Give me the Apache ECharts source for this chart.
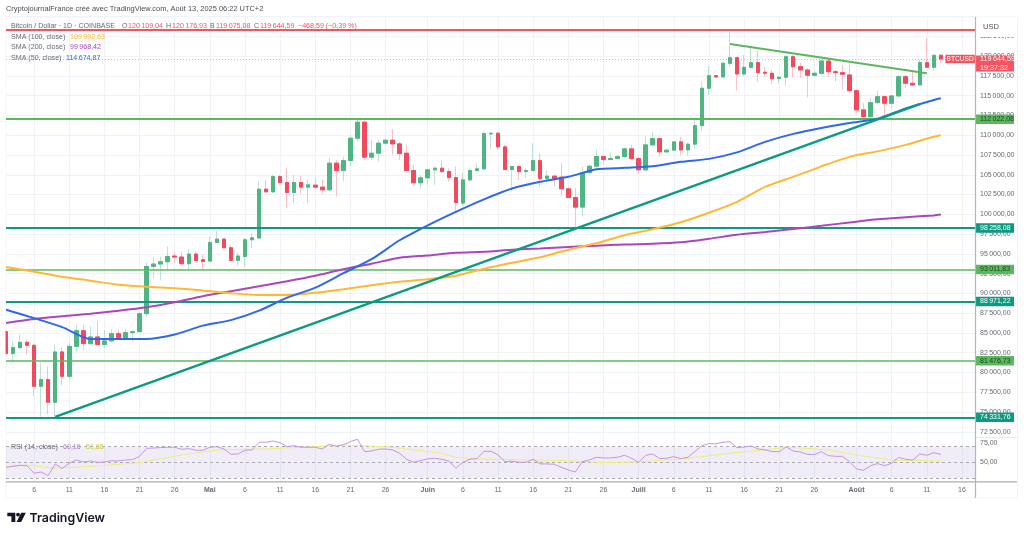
<!DOCTYPE html>
<html>
<head>
<meta charset="utf-8">
<style>html,body{margin:0;padding:0;background:#fff}#chart{width:1024px;height:536px}</style>
<script src="https://cdn.jsdelivr.net/npm/echarts@6/dist/echarts.min.js"></script>
</head>
<body>
<div id="chart"></div>
<script>
// BTC/USD daily candles, 2 Apr – 13 Aug 2025, with SMAs, support levels and RSI.
const startMonth = 3, startDay = 2;   // zero-based month of the first session
const sessionCount = 139;             // sessions on the axis, including blank days on the right

const opens = [
  85159,82381,83139,83810,83430,78250,79097,76230,82595,79513,
  83303,85286,83644,84490,83540,83985,84907,84364,85033,85159,
  87433,93407,93710,94000,94720,94594,93748,94973,94252,94088,
  96438,96867,95769,94165,94669,96779,97000,103182,102841,104774,
  104016,102753,104016,103435,103685,103435,103094,106466,105531,106794,
  109624,111644,107224,107729,108992,109371,108904,107729,105531,103978,
  104610,105620,105835,105405,104648,101414,104357,105531,105746,110170,
  110255,108525,105658,106037,105405,105531,106794,104521,104824,104700,
  103220,102122,100909,105279,106087,107300,106921,107047,107300,108272,
  107047,105620,108778,109573,107893,108108,109156,108146,108866,111215,
  115939,117530,117366,119096,119803,117745,118591,119172,117960,117833,
  117151,117328,119930,118667,118250,117580,117833,119387,118035,117909,
  117619,115636,113198,112352,114120,114878,114044,114966,117404,116570,
  116355,119172,118591,120109.04];
const closes = [
  82381,83139,83810,83430,78250,79097,76230,82595,79513,83303,
  85286,83644,84490,83540,83985,84907,84364,85033,85159,87433,
  93407,93710,94000,94669,94594,93748,94973,94165,94038,96438,
  96867,95769,94165,94720,96779,97031,103182,102841,104774,104016,
  102753,104016,103435,103725,103435,103094,106466,105531,106794,109624,
  111644,107224,107729,108992,109371,108904,107678,105531,103978,104610,
  105620,105835,105405,104648,101490,104357,105531,105746,110205,110255,
  108525,105658,106037,105405,105531,106794,104521,104824,104521,103220,
  102122,100909,105279,106087,107300,106921,107047,107300,108272,107047,
  105620,108778,109573,107893,108108,109156,108146,108866,111215,115939,
  117530,117366,119096,119803,117745,118591,119172,117909,117833,117151,
  117328,119930,118667,118250,117580,117833,119387,118035,117909,117708,
  115636,113198,112352,114120,114878,114044,114966,117404,116570,116355,
  119172,118591,120109,119644.59];
const lows = [
  82128,81244,82886,82255,76987,74420,74676,74423,78378,79097,
  82671,82886,83518,83400,83139,83770,84250,84149,83933,85030,
  87092,91941,91639,92901,93874,93622,92901,94040,92901,94000,
  96360,95700,94100,93495,93330,95730,96867,102677,102677,103900,
  100783,101414,102588,101414,103094,102588,103000,102247,104142,106037,
  109194,106883,106883,106668,108904,107514,106883,105450,103599,103182,
  103725,103725,105203,104142,100354,101073,104142,105405,105620,108272,
  108146,105620,102879,104357,104571,105400,103435,104016,103511,102336,
  102045,98258,99722,104988,105835,106251,106883,106970,107097,106883,
  105115,105405,108562,107300,107805,108020,107514,107388,108361,110546,
  115092,117202,117240,118667,115636,117404,118465,116772,117404,116482,
  116570,116230,117328,117240,114802,117404,117700,117366,116772,115724,
  115550,112819,112276,112276,114000,112567,113410,114840,115939,116230,
  116267,118502,118162,119075.08];
const highs = [
  85412,83896,84780,84150,83650,81244,80777,83518,83139,83770,
  86043,86043,85828,86460,85412,85500,85412,85500,85330,87722,
  93912,94594,94669,95933,95300,95300,95605,95300,94885,97196,
  97916,96950,96147,95175,97031,97625,104142,104357,104988,104988,
  105835,104988,104850,104357,104610,104357,107135,106883,107300,110040,
  111935,111935,109409,109409,109500,110760,109194,108778,106251,104988,
  105835,106037,106794,105835,106037,105279,105835,106466,110457,110380,
  110380,108778,106125,106251,105835,108992,107729,105531,105000,106466,
  103435,103308,106037,106251,108146,107388,107805,107514,108436,108778,
  107300,109825,110457,109624,108235,109194,109788,109068,112023,116772,
  118755,117619,119298,123087,119930,120144,121193,120776,118667,118250,
  117492,120144,120144,119172,118465,118035,119600,119640,118250,118882,
  118882,115724,114044,114675,115636,115055,115092,117619,117619,118035,
  119513,122292,120144,120176.93];

// Moving averages, read every fourth session plus the final one.
const smaSessions = [0,4,8,12,16,20,24,28,32,36,40,44,48,52,56,60,64,68,72,76,80,84,88,92,96,100,104,108,112,116,120,124,128,132,133];
const sma100 = [93331,92737,92106,91601,91096,90843,90654,90376,90021,89794,89794,90086,90527,91033,91475,91790,92232,93117,93875,94569,95516,96337,97347,98105,98988,100189,101576,103473,104736,106065,107262,107957,108780,109800,109992.63];
const sma200 = [86258,86763,87117,87433,87812,88254,88885,89643,90274,90906,91537,92232,93053,93748,94505,94795,95137,95263,95516,95680,95869,96020,96186,96274,96463,96905,97411,97751,98143,98547,98964,99368,99621,99861,99968.42];
const sma50 = [87938,86864,85727,84240,84238,84240,84806,85917,86612,87812,89453,90717,92548,94316,96716,98610,100316,101894,103258,104104,104736,105683,105873,106065,106630,107009,107830,109155,110167,110925,111556,112086,113390,114461,114674.87];

// Horizontal levels and the last traded price.
const resistanceLevel = 123300;
const tealLevels = [98258.08, 88971.22, 74331.76];
const greenLevels = [112022.08, 93011.83, 81476.73];
const lastClose = 119644.59;
const countdown = '19:37:32';

// Hand-drawn trendlines: [session, price] end points.
const risingTrend = [[7, 74386], [130, 113918]];
const fallingTrend = [[103, 121534], [131, 117833]];

// RSI(14), one reading per session.
const rsi = [
  43.7,45,46.2,45.8,36.1,37.8,33.1,47.9,42.4,48.8,
  53,50.5,51.8,50.1,50.5,52.2,51.8,53,53.5,57.7,
  67.9,68.3,68.8,69.2,69.2,66.6,67.5,65.4,65.4,69.2,
  70,67.1,60.3,60.7,65.4,65.8,75.6,75.6,77.2,75.1,
  70,71.3,69.2,69.2,69.2,67.1,73,70.4,72.6,76.4,
  79.4,63.7,64.5,66.7,67.1,65.8,61.6,53.9,50.1,52.2,
  54.4,55.2,53.9,51.8,42.5,50.1,53.9,54.8,64.1,64.1,
  59.5,51,51.4,50.1,50.1,53.9,48,48,47.6,43.7,
  40.3,37.8,51,53.1,56.5,55.6,55.6,56.5,59,55.2,
  50.1,59,60.7,54.8,55.2,57.3,54.8,56.5,63.7,71.3,
  73.9,73.5,75.6,76.4,68.8,69.6,70.9,67.1,65.8,63.7,
  63.7,69.6,64.5,63.2,60.3,59.8,63.7,58.6,57.7,57.7,
  50.9,41.6,39.9,45.8,48.4,45.8,48.8,56.4,53.9,53,
  60.7,59,62.4,60.16];
// RSI signal line, read at its bends.
const rsiSignal = [[0,44.6],[3,46.7],[7,42.4],[13,45.4],[19,49.6],[25,59.4],[30,65.8],[37,67.1],[44,70],[48,72.2],[51,71.3],[55,69.2],[62,61.6],[64,56.5],[67,54.4],[80,52.2],[85,49.7],[90,50.5],[97,55.2],[103,61.6],[110,68],[111,69.6],[117,65.8],[121,59.4],[126,53],[133,51.86]];
const rsiBands = [70, 50, 30];

const frenchMonths = ['', '', '', 'Avr', 'Mai', 'Juin', 'Juill', 'Août'];
const monthLengths = [31, 28, 31, 30, 31, 30, 31, 31];
const tickDays = [1, 6, 11, 16, 21, 26];

// One category per calendar day; the day and month stay reachable for the tick labels.
const sessions = [];
for (let m = startMonth, d = startDay; sessions.length < sessionCount; d++) {
  if (d > monthLengths[m]) { m++; d = 1; }
  sessions.push({ key: '2025-' + String(m + 1).padStart(2, '0') + '-' + String(d).padStart(2, '0'), month: m, day: d });
}
const categories = sessions.map(s => s.key);
const isTick = (i) => tickDays.includes(sessions[i].day);

const THIN = '\u202f';
const price = v => {
  const [a, b] = v.toFixed(2).split('.');
  return a.replace(/\B(?=(\d{3})+$)/g, THIN) + ',' + b;
};

const UP = '#4fb583', DOWN = '#f2495c';
const UP_WICK = '#bfe2d0', DOWN_WICK = '#f9c0c6';
const TEAL = '#0c9a80', GREEN = '#5cb85f', RED = '#f7525f';
const GRID = '#eff3f7';
const FONT = '"Liberation Sans", Arial, sans-serif';

const idx = closes.map((_, i) => i);
const candleData = idx.map(i => [opens[i], closes[i], lows[i], highs[i]]);
const bodyData = idx.map(i => [opens[i], closes[i], Math.min(opens[i], closes[i]), Math.max(opens[i], closes[i])]);
const withSessions = arr => arr.map((v, i) => [smaSessions[i], v]);

const levelLabel = (bg, fg) => ({
  show: true, position: 'end', distance: 0, formatter: p => price(p.value),
  color: fg, backgroundColor: bg, fontFamily: FONT, fontSize: 7,
  padding: [1.5, 2, 1.5, 4], width: 32, height: 6.5, align: 'left', lineHeight: 6.5
});

const levelLines = [
  { yAxis: resistanceLevel, lineStyle: { color: RED, width: 2, type: 'solid' }, label: { show: false } },
  ...tealLevels.map(v => ({ yAxis: v, lineStyle: { color: TEAL, width: 2, type: 'solid' }, label: levelLabel(TEAL, '#ffffff') })),
  ...greenLevels.map((v, i) => ({ yAxis: v, lineStyle: { color: GREEN, width: i ? 1.6 : 2, type: 'solid' }, label: levelLabel(GREEN, '#173f1c') })),
  { yAxis: lastClose, lineStyle: { color: 'rgba(247,82,95,0.65)', width: 0.8, type: [1, 2] },
    label: { show: true, position: 'end', distance: 0, offset: [0, 4.6], formatter: () => price(lastClose) + '\n' + countdown,
      color: '#fff', backgroundColor: RED, fontFamily: FONT, fontSize: 7.2, lineHeight: 8.6,
      padding: [0, 2, 0, 4], width: 32, height: 16, align: 'left' } }
];

const texts = [];
const text = (x, y, t, fill, size, extra) => texts.push(Object.assign({
  type: 'text', x, y, silent: true, z: 50,
  style: { text: t, fill, font: (size || 7.1) + 'px ' + FONT, textVerticalAlign: 'middle', textBaseline: 'middle' }
}, extra || {}));

const INK = '#666a74';
text(6, 9, 'CryptojournalFrance créé avec TradingView.com, Août 13, 2025 06:22 UTC+2', '#4a4d55', 7.45);
text(11, 26, 'Bitcoin / Dollar · 1D · COINBASE', INK);
[[122, 'O', '120' + THIN + '109,04'], [166, 'H', '120' + THIN + '176,93'], [210, 'B', '119' + THIN + '075,08'], [254, 'C', '119' + THIN + '644,59']].forEach(([x, k, v]) => {
  text(x, 26, k, INK);
  text(x + 6, 26, v, RED);
});
text(298, 26, '−468,59 (−0,39 %)', RED);
text(11, 37, 'SMA (100, close)', INK);
text(70, 37, '109' + THIN + '992,63', '#ffb833');
text(11, 47.5, 'SMA (200, close)', INK);
text(70, 47.5, '99' + THIN + '968,42', '#ab47bc');
text(11, 58, 'SMA (50, close)', INK);
text(66, 58, '114' + THIN + '674,87', '#2f67f0');
text(11, 447, 'RSI (14, close)', INK);
text(63, 447, '60,16', '#ab7fd0');
text(86, 447, '51,86', '#c9c93a');

const option = {
  animation: false,
  backgroundColor: '#ffffff',
  textStyle: { fontFamily: FONT },
  axisPointer: { show: false },
  grid: [
    { left: 6, top: 16.6, width: 970, height: 415.15, show: false },
    { left: 6, top: 431.75, width: 970, height: 50.25, show: false }
  ],
  xAxis: [
    { type: 'category', gridIndex: 0, data: categories, boundaryGap: false,
      axisLine: { show: false }, axisTick: { show: false }, axisLabel: { show: false },
      splitLine: { show: true, interval: isTick, lineStyle: { color: GRID, width: 1 } } },
    { type: 'category', gridIndex: 1, data: categories, boundaryGap: false,
      axisLine: { show: false }, axisTick: { show: false },
      splitLine: { show: true, interval: isTick, lineStyle: { color: GRID, width: 1 } },
      axisLabel: {
        interval: isTick, margin: 4.5, hideOverlap: false, fontSize: 7, fontFamily: FONT, color: '#666a74',
        formatter: (v, i) => sessions[i].day === 1 ? '{m|' + frenchMonths[sessions[i].month] + '}' : String(sessions[i].day),
        rich: { m: { fontSize: 7, fontWeight: 'bold', color: '#666a74', fontFamily: FONT } }
      } }
  ],
  yAxis: [
    { type: 'value', gridIndex: 0, position: 'right', min: 72500, max: 125000, interval: 2500,
      axisLine: { show: false }, axisTick: { show: false },
      splitLine: { show: true, lineStyle: { color: GRID, width: 1 } },
      axisLabel: { margin: 4, fontSize: 7, fontFamily: FONT, color: '#666a74', showMaxLabel: false, formatter: v => price(v) } },
    { type: 'value', gridIndex: 1, position: 'right', min: 25, max: 89, interval: 25,
      axisLine: { show: false }, axisTick: { show: false }, splitLine: { show: false },
      axisLabel: { margin: 4, fontSize: 7, fontFamily: FONT, color: '#666a74',
        formatter: v => (v === 50 || v === 75) ? v + ',00' : '' } }
  ],
  series: [
    { name: 'Wicks', type: 'candlestick', xAxisIndex: 0, yAxisIndex: 0, data: candleData, barWidth: 4, clip: true, z: 2,
      itemStyle: { color: UP_WICK, color0: DOWN_WICK, borderColor: UP_WICK, borderColor0: DOWN_WICK, borderWidth: 1 } },
    { name: 'BTCUSD', type: 'candlestick', xAxisIndex: 0, yAxisIndex: 0, data: bodyData, barWidth: 4, clip: true, z: 3,
      itemStyle: { color: UP, color0: DOWN, borderColor: UP, borderColor0: DOWN, borderWidth: 1 },
      markLine: { silent: true, symbol: 'none', animation: false, data: levelLines, z: 5 },
      markPoint: { silent: true, symbol: 'rect', symbolSize: 0, animation: false, z: 8,
        data: [{ coord: [136, lastClose], label: { show: true, position: 'inside', offset: [-1.8, 0], formatter: 'BTCUSD', color: '#fff',
          backgroundColor: RED, fontFamily: FONT, fontSize: 6.6, padding: [1.2, 1.2], lineHeight: 6 } }] } },
    { name: 'SMA 200', type: 'line', xAxisIndex: 0, yAxisIndex: 0, data: withSessions(sma200), showSymbol: false, smooth: 0.25, z: 6,
      lineStyle: { color: '#ab47bc', width: 2 } },
    { name: 'SMA 100', type: 'line', xAxisIndex: 0, yAxisIndex: 0, data: withSessions(sma100), showSymbol: false, smooth: 0.25, z: 6,
      lineStyle: { color: '#ffb833', width: 2 } },
    { name: 'SMA 50', type: 'line', xAxisIndex: 0, yAxisIndex: 0, data: withSessions(sma50), showSymbol: false, smooth: 0.25, z: 6,
      lineStyle: { color: '#2f67f0', width: 2 } },
    { name: 'Rising trendline', type: 'line', xAxisIndex: 0, yAxisIndex: 0, data: risingTrend, showSymbol: false, z: 7,
      lineStyle: { color: TEAL, width: 2.4 } },
    { name: 'Falling trendline', type: 'line', xAxisIndex: 0, yAxisIndex: 0, data: fallingTrend, showSymbol: false, z: 7,
      lineStyle: { color: GREEN, width: 2.2 } },
    { name: 'RSI', type: 'line', xAxisIndex: 1, yAxisIndex: 1, data: rsi, showSymbol: false, z: 6,
      lineStyle: { color: '#c596e3', width: 1 },
      markArea: { silent: true, animation: false, itemStyle: { color: 'rgba(126,87,194,0.11)' },
        data: [[{ yAxis: rsiBands[0] }, { yAxis: rsiBands[2] }]] },
      markLine: { silent: true, symbol: 'none', animation: false, label: { show: false },
        lineStyle: { color: '#a9a9b0', width: 1, type: [3, 3] },
        data: rsiBands.map(v => ({ yAxis: v })) } },
    { name: 'RSI signal', type: 'line', xAxisIndex: 1, yAxisIndex: 1, data: rsiSignal, showSymbol: false, z: 5,
      lineStyle: { color: '#eded7a', width: 1 } }
  ],
  graphic: [
    // Keeps the half-visible first candle inside the plot's left edge.
    { type: 'rect', shape: { x: 0, y: 17, width: 5.5, height: 465 }, silent: true, z: 45, style: { fill: '#ffffff' } },
    // Chart frame, price-scale rule and pane rules.
    { type: 'rect', shape: { x: 6, y: 17, width: 1011.5, height: 481 }, silent: true, z: 1, style: { fill: 'none', stroke: '#f0f3f7', lineWidth: 1 } },
    { type: 'line', shape: { x1: 975.5, y1: 17, x2: 975.5, y2: 498 }, silent: true, z: 40, style: { stroke: '#b4b6bb', lineWidth: 1.2 } },
    { type: 'line', shape: { x1: 976, y1: 437.5, x2: 1017, y2: 437.5 }, silent: true, z: 40, style: { stroke: '#e6e8ec', lineWidth: 1 } },
    { type: 'line', shape: { x1: 6, y1: 481.8, x2: 1017, y2: 481.8 }, silent: true, z: 40, style: { stroke: '#a9abb0', lineWidth: 1.2 } },
    // Currency button above the price scale.
    { type: 'rect', shape: { x: 977, y: 17.5, width: 39, height: 19.5 }, silent: true, z: 44, style: { fill: '#ffffff' } },
    ...texts,
    { type: 'text', x: 983, y: 27, silent: true, z: 50, style: { text: 'USD', fill: '#555860', font: '7.6px ' + FONT, textVerticalAlign: 'middle' } },
    // Brand mark and wordmark.
    { type: 'polygon', shape: { points: [[7.3, 512.7], [15.3, 512.7], [15.3, 522], [11.4, 522], [11.4, 516.2], [7.3, 516.2]] }, silent: true, z: 50, style: { fill: '#131722' } },
    { type: 'circle', shape: { cx: 18, cy: 514.6, r: 1.9 }, silent: true, z: 50, style: { fill: '#131722' } },
    { type: 'polygon', shape: { points: [[21.2, 512.7], [25.8, 512.7], [21.2, 522], [16.6, 522]] }, silent: true, z: 50, style: { fill: '#131722' } },
    { type: 'text', x: 29.5, y: 518, silent: true, z: 50, style: { text: 'TradingView', fill: '#131722', font: '600 12.4px Inter, ' + FONT, textVerticalAlign: 'middle' } }
  ]
};

const chart = echarts.init(document.getElementById('chart'), null, { renderer: 'canvas' });
chart.setOption(option);
</script>
</body>
</html>
